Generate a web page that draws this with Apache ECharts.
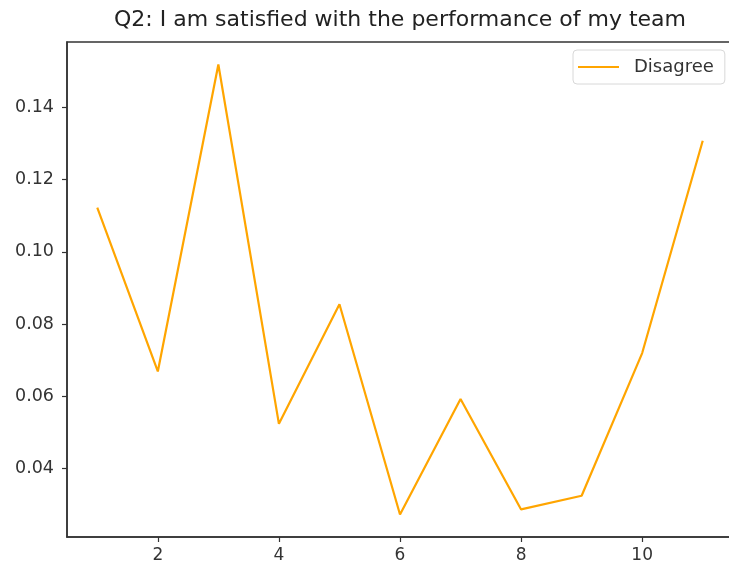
<!DOCTYPE html>
<html>
<head>
<meta charset="utf-8">
<script src="https://cdn.jsdelivr.net/npm/echarts@6/dist/echarts.min.js"></script>
<style>
  html, body { margin: 0; padding: 0; background: #fff; }
  #container { width: 729px; height: 569px; }
</style>
</head>
<body>
<div id="container"></div>
<script>
// question number on x, share of "Disagree" on y
var questions = [1, 2, 3, 4, 5, 6, 7, 8, 9, 10, 11];
var disagree = [0.1123, 0.0669, 0.1519, 0.0524, 0.0855, 0.0273, 0.0593, 0.0287, 0.0325, 0.0720, 0.1308];
var xTicks = [2, 4, 6, 8, 10];
var yTicks = [0.04, 0.06, 0.08, 0.10, 0.12, 0.14];

// matplotlib style 5% margins
var lo = Math.min.apply(null, disagree), hi = Math.max.apply(null, disagree);
var pad = (hi - lo) * 0.05;

var axisColor = '#333';
var font = 'DejaVu Sans';

let option = {
  animation: false,
  backgroundColor: '#fff',
  title: {
    text: 'Q2: I am satisfied with the performance of my team',
    left: 395,
    textAlign: 'center',
    top: 4,
    textStyle: {
      fontFamily: font,
      fontWeight: 'normal',
      fontSize: 22,
      color: '#222'
    }
  },
  legend: {
    left: 573,
    top: 50,
    orient: 'vertical',
    icon: 'rect',
    itemWidth: 41,
    itemHeight: 2,
    padding: [8, 11, 8, 5],
    borderColor: '#d8d8d8',
    borderWidth: 1,
    borderRadius: 4,
    backgroundColor: '#fff',
    textStyle: {
      fontFamily: font,
      fontSize: 18,
      color: '#333',
      padding: [0, 0, 0, 10]
    },
    data: ['Disagree']
  },
  grid: {
    left: 67,
    width: 666,
    top: 42,
    bottom: 32,
    outerBoundsMode: 'none',
    show: true,
    borderColor: axisColor,
    borderWidth: 1.5
  },
  xAxis: {
    type: 'value',
    min: 0.5,
    max: 11.5,
    splitLine: { show: false },
    axisLine: { onZero: false, lineStyle: { color: axisColor, width: 1.5 } },
    axisTick: { customValues: xTicks, length: 5, lineStyle: { color: axisColor, width: 1.2 } },
    axisLabel: {
      customValues: xTicks,
      margin: 10,
      fontFamily: font,
      fontSize: 17,
      color: '#333'
    }
  },
  yAxis: {
    type: 'value',
    min: lo - pad,
    max: hi + pad,
    splitLine: { show: false },
    axisLine: { show: true, onZero: false, lineStyle: { color: axisColor, width: 1.5 } },
    axisTick: { show: true, customValues: yTicks, length: 5, lineStyle: { color: axisColor, width: 1.2 } },
    axisLabel: {
      customValues: yTicks,
      margin: 13,
      fontFamily: font,
      fontSize: 17.5,
      color: '#333',
      formatter: function (v) { return v.toFixed(2); }
    }
  },
  series: [{
    name: 'Disagree',
    type: 'line',
    symbol: 'none',
    lineStyle: { color: '#FFA500', width: 2.2 },
    itemStyle: { color: '#FFA500' },
    data: questions.map(function (q, i) { return [q, disagree[i]]; })
  }]
};

var myChart = window.echarts.init(document.getElementById('container'), null, { renderer: 'canvas' });
myChart.setOption(option);
</script>
</body>
</html>
